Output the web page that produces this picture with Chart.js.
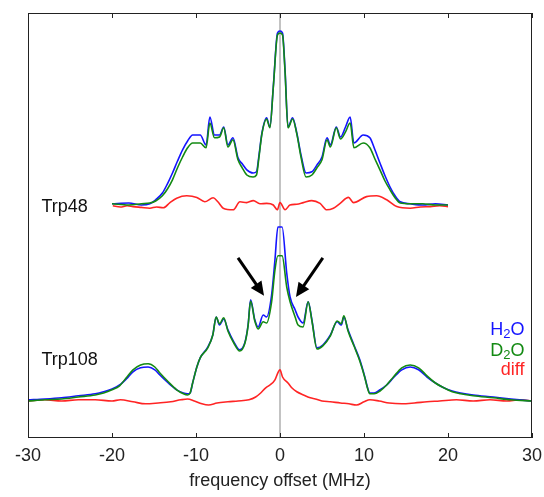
<!DOCTYPE html>
<html><head><meta charset="utf-8">
<script src="https://cdn.jsdelivr.net/npm/chart.js@4/dist/chart.umd.min.js"></script>
<style>html,body{margin:0;padding:0;background:#fff;overflow:hidden}#wrap{width:544px;height:497px}</style>
</head><body><div id="wrap"><canvas id="c" width="544" height="497"></canvas></div>
<script>
// ---- data (frequency offset in MHz, intensity in arbitrary units) ----
const xTicks = [-30, -20, -10, 0, 10, 20, 30];

const trp48Freq = [-20,-18,-16.5,-15.5,-14.8,-14,-13.4,-12.8,-12.2,-11.6,-11,-10.4,-9.5,-8.8,-8.35,-7.8,-7.2,-6.7,-6.2,-5.6,-5.0,-4.5,-3.95,-3.2,-2.8,-2.5,-2.15,-1.6,-1.2,-0.8,-0.3,0,0.3,0.6,0.95,1.5,2.0,2.5,3.1,3.8,4.4,5.0,5.6,6.0,6.7,7.2,7.8,8.35,8.8,9.9,10.7,11.3,11.9,12.5,13.1,13.7,14.3,15.5,17,18.5,20];
const trp48H2O = [58.3,58.5,58.0,58.3,59.3,61.0,63.3,66.0,69.0,71.8,74.0,75.5,75.5,73.0,80.0,75.5,75.5,77.5,73.0,74.8,69.8,68.3,66.8,66.0,66.3,70.5,76.0,79.8,77.5,87.5,101.0,101.5,101.0,91.8,77.5,79.8,76.0,70.5,66.0,66.3,68.0,70.0,74.8,73.0,77.5,75.0,77.5,80.0,73.5,75.5,74.8,71.8,68.5,65.3,62.5,60.3,58.8,58.3,58.0,58.3,58.0];
const trp48D2O = [58.3,58.0,58.3,58.5,59.0,60.3,62.0,64.3,67.3,70.0,72.3,73.5,73.5,72.3,78.5,74.8,75.0,77.3,72.5,74.3,69.3,67.3,65.5,65.0,65.5,70.0,75.8,79.5,77.3,87.3,100.5,101.0,100.5,91.3,77.3,79.5,75.8,70.0,65.0,65.5,67.3,69.3,74.3,72.5,77.3,74.5,76.3,78.5,72.3,73.5,72.3,69.5,66.8,64.0,61.8,59.8,58.5,58.3,58.3,58.0,58.0];

const trp48DiffFreq = [-19.9,-19,-18.2,-17.5,-16.5,-15.5,-14.7,-13.9,-13.1,-12.3,-11.1,-9.9,-8.96,-7.96,-7.4,-6.76,-5.57,-4.77,-3.98,-3.18,-2.39,-1.59,-0.8,-0.32,0,0.6,1.19,2.0,2.78,3.78,4.77,5.57,6.36,7.16,8.15,8.75,10.3,11.5,12.7,13.9,15.5,16.7,17.9,19,20];
const trp48Diff = [57.8,57.5,57.8,57.6,57.4,57.2,57.5,57.3,58.6,59.7,60.3,59.9,58.8,59.8,58.8,57.2,56.8,58.8,58.6,59.1,58.3,58.4,58.0,56.8,58.6,56.8,58.0,58.2,58.6,59.1,58.4,56.8,57.2,58.4,59.9,58.6,60.1,60.3,59.3,57.6,57.2,57.5,57.6,57.8,57.6];

const trp108Freq = [-30,-28,-26,-24,-22,-21,-20,-19.1,-18.3,-17.5,-16.6,-15.7,-14.9,-14.3,-13.3,-12.3,-11.5,-11.0,-10.7,-10.4,-9.9,-9.5,-8.6,-8.0,-7.6,-7.2,-6.7,-6.2,-5.5,-4.8,-4.2,-3.8,-3.5,-3.0,-2.6,-2.0,-1.6,-1.0,-0.6,-0.25,0.25,0.8,1.2,1.8,2.15,2.75,3.35,3.8,4.4,5.1,6.0,6.8,7.3,7.6,8.1,8.8,9.5,10.1,10.4,10.7,11.2,11.9,12.7,13.5,14.5,15.5,16.5,17.5,18.5,19.5,20.5,21.5,23,25.4,27.5,30];
const trp108H2O = [9.3,9.5,9.8,10.3,10.8,11.3,12.0,13.0,14.5,16.3,17.3,17.5,16.8,15.5,13.5,11.8,11.0,10.8,11.0,13.5,17.5,19.8,22.5,25.5,30.0,28.0,29.5,26.8,23.8,21.8,23.5,28.0,34.3,29.3,27.5,30.5,30.0,35.5,44.3,52.5,52.5,41.0,35.0,31.8,30.0,28.5,33.8,29.3,22.3,23.0,25.5,28.8,28.0,30.0,26.8,23.0,19.3,15.0,12.5,11.0,11.0,11.8,13.0,14.8,16.8,17.5,16.8,15.0,13.5,12.3,11.5,11.0,10.5,10.0,9.5,9.0];
const trp108D2O = [9.0,9.3,9.5,10.0,10.5,11.0,11.8,12.8,14.8,16.8,18.0,18.3,17.5,16.0,13.8,11.8,10.8,10.5,11.0,13.5,17.5,19.8,22.3,25.5,30.0,28.3,29.8,26.5,23.5,21.5,23.3,27.8,34.0,29.0,27.0,28.8,28.5,33.8,41.8,45.3,45.3,37.5,33.8,30.0,28.0,27.5,33.8,29.0,22.0,22.8,25.3,29.0,28.3,30.3,26.5,22.8,19.0,14.8,12.3,10.8,10.8,11.5,13.0,15.0,17.3,18.0,17.3,15.3,13.5,12.3,11.3,10.8,10.3,9.8,9.3,9.0];

const trp108DiffFreq = [-30,-28,-26,-24,-22,-20,-19,-17.5,-16,-14.5,-13,-11.8,-11.0,-10.2,-9.3,-8.5,-7.5,-6.2,-5.0,-3.7,-2.9,-2.3,-1.7,-1.2,-0.6,-0.2,0,0.3,0.95,1.4,2.0,2.8,3.6,4.2,5.0,6.0,7.2,8.2,9.1,10.0,10.7,11.8,13,14.5,16,17.5,19,21,23,25,27,28.5,30];
const trp108Diff = [9.0,9.3,9.0,9.3,9.3,9.0,9.3,8.8,8.3,8.5,8.8,9.3,9.5,9.0,8.3,8.0,8.5,8.8,9.0,9.3,10.0,11.0,12.3,13.0,14.3,16.3,16.8,15.0,13.5,12.3,11.3,10.5,9.8,9.5,9.0,8.8,8.5,8.3,8.0,8.8,9.3,9.0,8.5,8.3,8.5,8.8,9.0,9.3,9.0,9.3,9.0,9.3,9.0];

// annotations (data coordinates)
const arrowTails = [[-5.0, 44.8], [5.1, 44.8]];
const arrowHeads = [[-1.9, 35.3], [1.9, 35.0]];
const spectrumNames = ['Trp48', 'Trp108'];
const spectrumNamePos = [[-28.4, 56.2], [-28.4, 18.0]];
const legendNames = [['H', '2', 'O'], ['D', '2', 'O'], ['diff', '', '']];
const legendPos = [[29.1, 25.4], [29.1, 20.2], [29.1, 15.5]];

const BLUE = '#1414ff', GREEN = '#138a13', RED = '#ff2424';
const legendColors = [BLUE, GREEN, RED];
const FONT = '"Liberation Sans", Arial, Helvetica, sans-serif';

function pts(xs, ys) { return xs.map((x, i) => ({ x: x, y: ys[i] })); }
function ds(label, xs, ys, color) {
  return { label, data: pts(xs, ys), borderColor: color, borderWidth: 1.6, pointRadius: 0,
           fill: false, cubicInterpolationMode: 'monotone', tension: 0.4 };
}

const decorPlugin = {
  id: 'decor',
  beforeDatasetsDraw(chart) {
    const { ctx, chartArea: a, scales: { x } } = chart;
    const px = x.getPixelForValue(0);
    ctx.save();
    ctx.strokeStyle = '#b4b4b4';
    ctx.lineWidth = 1.6;
    ctx.beginPath(); ctx.moveTo(px, a.top); ctx.lineTo(px, a.bottom); ctx.stroke();
    ctx.restore();
  },
  afterDatasetsDraw(chart) {
    const { ctx, chartArea: a, scales: { x, y } } = chart;
    ctx.save();
    // frame
    ctx.strokeStyle = '#222';
    ctx.lineWidth = 1;
    ctx.strokeRect(Math.round(a.left) + 0.5, Math.round(a.top) + 0.5,
                   Math.round(a.right - a.left) - 1, Math.round(a.bottom - a.top) - 1);
    // inward tick marks top and bottom
    ctx.beginPath();
    xTicks.forEach(t => {
      const p = Math.round(x.getPixelForValue(t)) + 0.5;
      ctx.moveTo(p, a.bottom); ctx.lineTo(p, a.bottom - 5);
      ctx.moveTo(p, a.top); ctx.lineTo(p, a.top + 5);
    });
    ctx.stroke();

    // arrows
    ctx.strokeStyle = '#000'; ctx.fillStyle = '#000'; ctx.lineWidth = 3;
    arrowTails.forEach((t, i) => {
      const x0 = x.getPixelForValue(t[0]), y0 = y.getPixelForValue(t[1]);
      const x1 = x.getPixelForValue(arrowHeads[i][0]), y1 = y.getPixelForValue(arrowHeads[i][1]);
      const ang = Math.atan2(y1 - y0, x1 - x0);
      const L = 14, W = 6.5;
      const bx = x1 - L * Math.cos(ang), by = y1 - L * Math.sin(ang);
      ctx.beginPath(); ctx.moveTo(x0, y0); ctx.lineTo(bx + 2 * Math.cos(ang), by + 2 * Math.sin(ang)); ctx.stroke();
      ctx.beginPath();
      ctx.moveTo(x1, y1);
      ctx.lineTo(bx + W * Math.sin(ang), by - W * Math.cos(ang));
      ctx.lineTo(bx - W * Math.sin(ang), by + W * Math.cos(ang));
      ctx.closePath(); ctx.fill();
    });

    // spectrum names
    ctx.font = '18px ' + FONT;
    ctx.fillStyle = '#111';
    ctx.textBaseline = 'alphabetic';
    ctx.textAlign = 'left';
    spectrumNames.forEach((n, i) => {
      ctx.fillText(n, x.getPixelForValue(spectrumNamePos[i][0]), y.getPixelForValue(spectrumNamePos[i][1]));
    });

    // legend texts (right aligned, with subscripts)
    legendNames.forEach((parts, i) => {
      const big = '18px ' + FONT, small = '13px ' + FONT;
      ctx.font = big; const w0 = ctx.measureText(parts[0]).width;
      const w2 = ctx.measureText(parts[2]).width;
      ctx.font = small; const w1 = ctx.measureText(parts[1]).width;
      const right = x.getPixelForValue(legendPos[i][0]);
      const base = y.getPixelForValue(legendPos[i][1]);
      let cx = right - (w0 + w1 + w2);
      ctx.fillStyle = legendColors[i];
      ctx.textAlign = 'left';
      ctx.font = big; ctx.fillText(parts[0], cx, base); cx += w0;
      ctx.font = small; ctx.fillText(parts[1], cx, base + 3); cx += w1;
      ctx.font = big; ctx.fillText(parts[2], cx, base);
    });
    ctx.restore();
  }
};

new Chart(document.getElementById('c'), {
  type: 'line',
  data: {
    datasets: [
      ds('Trp48 D2O', trp48Freq, trp48D2O, GREEN),
      ds('Trp48 H2O', trp48Freq, trp48H2O, BLUE),
      ds('Trp48 diff', trp48DiffFreq, trp48Diff, RED),
      ds('Trp108 D2O', trp108Freq, trp108D2O, GREEN),
      ds('Trp108 H2O', trp108Freq, trp108H2O, BLUE),
      ds('Trp108 diff', trp108DiffFreq, trp108Diff, RED)
    ]
  },
  options: {
    responsive: false,
    animation: false,
    devicePixelRatio: 1,
    layout: { padding: { left: 28, right: 12, top: 13, bottom: 0 } },
    plugins: { legend: { display: false }, tooltip: { enabled: false } },
    scales: {
      x: {
        type: 'linear', min: -30, max: 30,
        afterBuildTicks: (s) => { s.ticks = xTicks.map(v => ({ value: v })); },
        afterFit: (s) => { s.height = 59; s.paddingLeft = 0; s.paddingRight = 0; },
        grid: { display: false, drawTicks: false },
        border: { display: false },
        ticks: { font: { size: 18, family: FONT }, color: '#222', padding: 7, maxRotation: 0 },
        title: { display: true, text: 'frequency offset (MHz)', color: '#222',
                 font: { size: 18, family: FONT }, padding: { top: 0, bottom: 5 } }
      },
      y: { type: 'linear', min: -0.25, max: 106, display: false }
    }
  },
  plugins: [decorPlugin]
});
</script>
</body></html>
